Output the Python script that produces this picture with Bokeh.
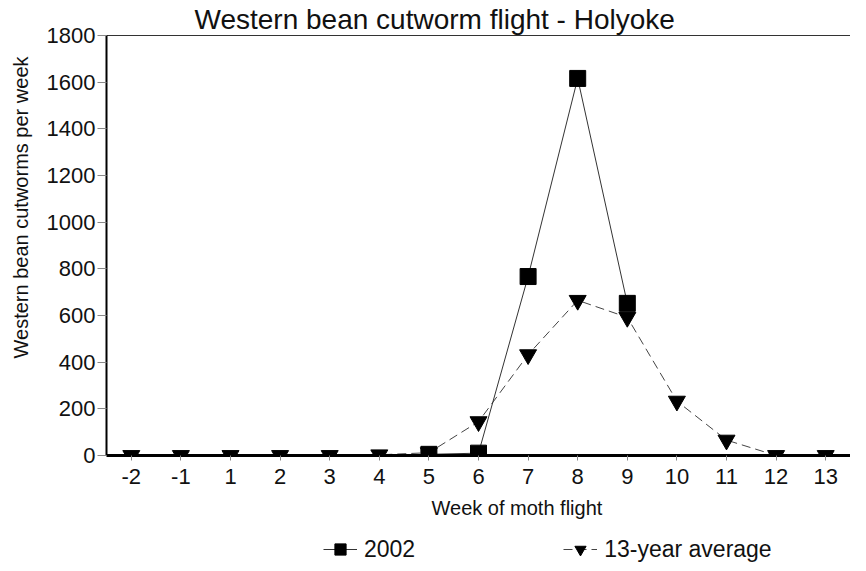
from bokeh.plotting import figure
from bokeh.layouts import column
from bokeh.models import FactorRange, Range1d, FixedTicker, Title, Legend, LegendItem, CategoricalAxis
from bokeh.embed import file_html
from bokeh.resources import INLINE

# ---- data ----
weeks = ["-2", "-1", "1", "2", "3", "4", "5", "6", "7", "8", "9", "10", "11", "12", "13"]
weeks_2002 = ["5", "6", "7", "8", "9"]
counts_2002 = [5, 10, 767, 1616, 652]
avg_13yr = [0, 0, 0, 0, 0, 3, 12, 145, 432, 665, 592, 233, 66, 0, 0]
y_ticks = [0, 200, 400, 600, 800, 1000, 1200, 1400, 1600, 1800]
series_names = ["2002", "13-year average"]

FONT = "Liberation Sans"
INK = "#111111"

P_H = 535
LG_H = 28
p = figure(width=850, height=P_H,
           x_range=FactorRange(factors=weeks, range_padding=0),
           y_range=Range1d(0, 1800),
           output_backend="svg", toolbar_location=None,
           min_border_left=99, min_border_right=0, min_border_top=0, min_border_bottom=80)

p.background_fill_color = "white"
p.border_fill_color = "white"
p.outline_line_color = None
p.grid.visible = False

# title
p.title.text = "Western bean cutworm flight - Holyoke"
p.title.text_font = FONT
p.title.text_font_size = "28px"
p.title.text_font_style = "normal"
p.title.text_color = INK
p.title.align = "left"
p.title.offset = 88
p.title.standoff = 2

# y axis
ya = p.left[0]
ya.ticker = FixedTicker(ticks=y_ticks)
ya.axis_line_color = "black"
ya.axis_line_width = 2
ya.major_tick_line_color = "#888888"
ya.major_tick_out = 9
ya.major_tick_in = 0
ya.minor_tick_line_color = None
ya.major_label_text_font = FONT
ya.major_label_text_font_size = "22px"
ya.major_label_text_color = INK
ya.major_label_standoff = 2

# x axis (bottom)
xa = p.below[0]
xa.axis_line_color = "black"
xa.axis_line_width = 3
xa.major_tick_line_color = "#888888"
xa.major_tick_out = 5
xa.major_tick_in = 0
xa.major_label_text_font = FONT
xa.major_label_text_font_size = "22px"
xa.major_label_text_color = INK
xa.major_label_standoff = 8

# top border as an axis without ticks or labels
top_axis = CategoricalAxis(major_label_text_font_size="1px", major_label_text_alpha=0,
                           major_tick_line_color=None, major_tick_out=0, major_tick_in=0,
                           minor_tick_line_color=None, axis_line_color="#333333",
                           axis_line_width=1, major_label_standoff=0)
p.add_layout(top_axis, "above")

# axis labels as titles (offset like in the reference)
xlab = Title(text="Week of moth flight", align="left", offset=325,
             text_font=FONT, text_font_size="20px", text_font_style="normal",
             text_color=INK, standoff=16)
p.add_layout(xlab, "below")
ylab = Title(text="Western bean cutworms per week", align="right", offset=21,
             vertical_align="top",
             text_font=FONT, text_font_size="20px", text_font_style="normal",
             text_color=INK, standoff=19)
p.add_layout(ylab, "left")

# series
p.line(weeks, avg_13yr, line_color="#444444", line_width=1, line_dash="9 5")
p.line(weeks_2002, counts_2002, line_color="#333333", line_width=1)
p.scatter(weeks, avg_13yr, marker="inverted_triangle", size=17,
          fill_color="black", line_color="black")
p.scatter(weeks_2002, counts_2002, marker="square", size=16,
          fill_color="black", line_color="black")

# legend strip below the chart (its glyphs use the same series, kept out of view)
lg = figure(width=850, height=LG_H, x_range=Range1d(0, 1), y_range=Range1d(-3, -2),
            output_backend="svg", toolbar_location=None,
            x_axis_location=None, y_axis_location=None,
            min_border_left=0, min_border_right=0, min_border_top=0, min_border_bottom=0)
lg.outline_line_color = None
lg.grid.visible = False
lg.background_fill_color = "white"
lg.border_fill_color = "white"
idx_02 = list(range(len(counts_2002)))
idx_av = list(range(len(avg_13yr)))
ll1 = lg.line(idx_02, counts_2002, line_color="#333333", line_width=1)
lm1 = lg.scatter(idx_02, counts_2002, marker="square", fill_color="black", line_color="black")
ll2 = lg.line(idx_av, avg_13yr, line_color="#444444", line_width=1, line_dash="9 5")
lm2 = lg.scatter(idx_av, avg_13yr, marker="inverted_triangle", fill_color="black", line_color="black")

legend = Legend(items=[LegendItem(label=series_names[0], renderers=[ll1, lm1], index=0),
                       LegendItem(label=series_names[1], renderers=[ll2, lm2], index=0)],
                orientation="horizontal", location=(217, 0),
                glyph_width=34, glyph_height=28, label_standoff=7, spacing=148,
                padding=0, margin=0, border_line_color=None, background_fill_alpha=0,
                label_text_font=FONT, label_text_font_size="23px", label_text_color=INK)
lg.add_layout(legend, "center")

page = column(p, lg, spacing=0)
open("out.html", "w").write(file_html(page, INLINE))
